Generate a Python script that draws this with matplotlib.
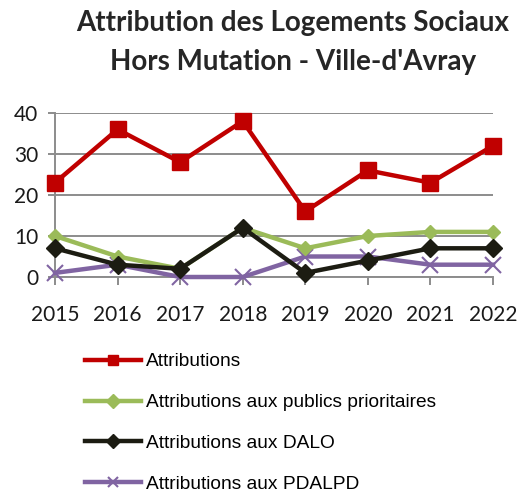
import matplotlib
matplotlib.use("Agg")
import matplotlib.pyplot as plt

years = [2015, 2016, 2017, 2018, 2019, 2020, 2021, 2022]
attributions = [23, 36, 28, 38, 16, 26, 23, 32]
prioritaires = [10, 5, 2, 12, 7, 10, 11, 11]
dalo = [7, 3, 2, 12, 1, 4, 7, 7]
pdalpd = [1, 3, 0, 0, 5, 5, 3, 3]
labels = ["Attributions", "Attributions aux publics prioritaires",
          "Attributions aux DALO", "Attributions aux PDALPD"]
yticks = [0, 10, 20, 30, 40]

fig = plt.figure(figsize=(5.26, 4.97), dpi=100)
ax = fig.add_axes([55/526, 220/497, (493-55)/526, (277-113)/497])

ax.plot(years, attributions, color="#C00000", lw=3.2, marker="s", ms=12, label=labels[0], zorder=5)
ax.plot(years, prioritaires, color="#9BBB59", lw=3.2, marker="D", ms=7, label=labels[1], zorder=4)
ax.plot(years, dalo, color="#1C1C12", lw=3.2, marker="D", ms=9, label=labels[2], zorder=4)
ax.plot(years, pdalpd, color="#8064A2", lw=3.2, marker="x", ms=11, mew=1.5, label=labels[3], zorder=3)

ax.set_xlim(2015, 2022)
ax.set_ylim(0, 40)
ax.set_yticks(yticks)
ax.set_xticks(years)
ax.grid(axis="y", color="#8C8C8C", lw=1.4)
ax.set_axisbelow(True)
for s in ["top", "right"]:
    ax.spines[s].set_visible(False)
for s in ["left", "bottom"]:
    ax.spines[s].set_color("#8C8C8C")
    ax.spines[s].set_linewidth(1.4)
ax.tick_params(axis="y", length=5, width=1.4, color="#8C8C8C", pad=7, labelsize=15)
ax.tick_params(axis="x", length=6, width=1.4, color="#8C8C8C", pad=14, labelsize=15)
for t in ax.get_xticklabels() + ax.get_yticklabels():
    t.set_family("Lato")
    t.set_color("#1a1a1a")
for l in ax.lines:
    l.set_clip_on(False)

fig.text(293/526, 1 - 23/497, "Attribution des Logements Sociaux", ha="center", va="center",
         fontsize=20, fontweight="bold", family="Lato", color="#262626")
fig.text(293/526, 1 - 62/497, "Hors Mutation - Ville-d'Avray", ha="center", va="center",
         fontsize=20, fontweight="bold", family="Lato", color="#262626")

handles, labs = ax.get_legend_handles_labels()
leg = fig.legend(handles, labs, loc="upper left", bbox_to_anchor=(85/526, 1 - 353/497),
                 frameon=False, borderpad=0, borderaxespad=0, handlelength=2.9,
                 handletextpad=0.27, labelspacing=1.22,
                 prop={"family": "Liberation Sans", "size": 13.8})
for h in leg.legend_handles:
    h.set_markersize(7)

fig.savefig("out.png", dpi=100)
